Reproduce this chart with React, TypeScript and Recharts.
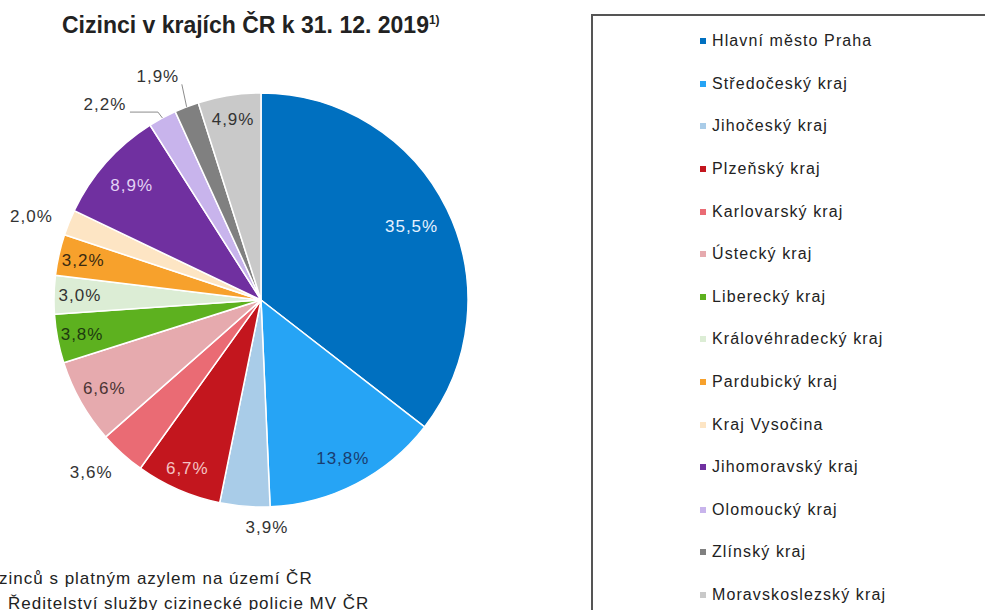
import { Cell, Legend, Pie, PieChart } from "recharts";

const regions = [
  "Hlavní město Praha",
  "Středočeský kraj",
  "Jihočeský kraj",
  "Plzeňský kraj",
  "Karlovarský kraj",
  "Ústecký kraj",
  "Liberecký kraj",
  "Královéhradecký kraj",
  "Pardubický kraj",
  "Kraj Vysočina",
  "Jihomoravský kraj",
  "Olomoucký kraj",
  "Zlínský kraj",
  "Moravskoslezský kraj",
];

const shares = [35.5, 13.8, 3.9, 6.7, 3.6, 6.6, 3.8, 3.0, 3.2, 2.0, 8.9, 2.2, 1.9, 4.9];

const COLORS = [
  "#0070c0",
  "#26a4f5",
  "#a9cce8",
  "#c3161e",
  "#ea6b74",
  "#e6aaae",
  "#5db11f",
  "#dcedd5",
  "#f7a12c",
  "#fde5c4",
  "#7030a0",
  "#c8b4ec",
  "#808080",
  "#c9c9c9",
];

// label styling per slice
const LABEL_COLORS = [
  "#e6f2ff", "#1a3d70", "#333", "#f4c3c3", "#333", "#4a3434", "#1e3a10",
  "#333", "#3a2a10", "#333", "#e3d3f5", "#333", "#333", "#333",
];
const LABEL_RADIUS = [0.81, 0.86, 1.1, 0.89, 1.17, 0.87, 0.88, 0.875, 0.88, 1.18, 0.835, 1.21, 1.19, 0.88];
const LABEL_SHIFT = [0, 0, 6, 0, -2.4, 0, 0, 0, 0, 2, 0, 10.1, 3.7, 0];
// leader lines: [elbow dx, end dx] from label centre
const LEADERS: Record<number, [number, number]> = { 11: [53, 25], 12: [24, 24] };

const RADIAN = Math.PI / 180;
const FONT = '"Liberation Sans", Arial, sans-serif';

const chartData = regions.map((name, i) => ({ name, value: shares[i], fill: COLORS[i] }));

const fmt = (v: number) => `${v.toFixed(1).replace(".", ",")}%`;

function renderLabel(props: any) {
  const { cx, cy, midAngle, outerRadius, index, value } = props;
  const a = (midAngle + LABEL_SHIFT[index]) * RADIAN;
  const r = outerRadius * LABEL_RADIUS[index];
  const x = cx + r * Math.cos(a);
  const y = cy - r * Math.sin(a);
  const leader = LEADERS[index];
  let line = null;
  if (leader) {
    const ex = cx + outerRadius * Math.cos(midAngle * RADIAN);
    const ey = cy - outerRadius * Math.sin(midAngle * RADIAN);
    line = (
      <path
        d={`M${ex},${ey} L${x + leader[0]},${y + 8} L${x + leader[1]},${y + 8}`}
        stroke="#8c8c8c"
        strokeWidth={1}
        fill="none"
      />
    );
  }
  return (
    <g key={`lbl-${index}`}>
      {line}
      <text
        x={x}
        y={y}
        textAnchor="middle"
        dominantBaseline="central"
        fill={LABEL_COLORS[index]}
        fontSize={17}
        letterSpacing={1}
        fontFamily={FONT}
      >
        {fmt(value)}
      </text>
    </g>
  );
}

function LegendBox({ payload }: any) {
  const items = [...(payload || [])].sort(
    (a: any, b: any) => regions.indexOf(a.value) - regions.indexOf(b.value)
  );
  return (
    <div style={{ paddingTop: 4 }}>
      {items.map((p: any) => (
        <div
          key={p.value}
          style={{ display: "flex", alignItems: "center", height: 42.6, paddingLeft: 107 }}
        >
          <span style={{ width: 6, height: 6, background: p.color, marginRight: 6, flexShrink: 0 }} />
          <span style={{ fontSize: 16, fontFamily: FONT, color: "#222", letterSpacing: 1.1 }}>{p.value}</span>
        </div>
      ))}
    </div>
  );
}

export default function App() {
  return (
    <div
      style={{
        position: "absolute",
        left: 0,
        top: 0,
        width: 985,
        height: 610,
        overflow: "hidden",
        background: "#fff",
        fontFamily: FONT,
      }}
    >
      <PieChart
        width={985}
        height={610}
        margin={{ top: 0, right: 0, bottom: 0, left: 0 }}
        style={{ position: "absolute", left: 0, top: 0 }}
      >
        <Pie
          data={chartData}
          dataKey="value"
          nameKey="name"
          cx={261}
          cy={300}
          outerRadius={207}
          startAngle={90}
          endAngle={-270}
          stroke="#fff"
          strokeWidth={1.5}
          label={renderLabel}
          labelLine={false}
          isAnimationActive={false}
        >
          {chartData.map((d, i) => (
            <Cell key={d.name} fill={COLORS[i]} />
          ))}
        </Pie>
        <Legend
          layout="vertical"
          content={<LegendBox />}
          wrapperStyle={{
            position: "absolute",
            left: 591,
            top: 14,
            width: 420,
            height: 620,
            border: "2px solid #555",
            boxSizing: "border-box",
          }}
        />
      </PieChart>

      <div
        style={{
          position: "absolute",
          left: 62,
          top: 12,
          fontSize: 23,
          fontWeight: "bold",
          color: "#222",
          whiteSpace: "nowrap",
        }}
      >
        Cizinci v krajích ČR k 31. 12. 2019
        <sup style={{ fontSize: 12 }}>1)</sup>
      </div>

      <div
        style={{
          position: "absolute",
          left: -1,
          top: 566,
          fontSize: 17,
          letterSpacing: 1,
          color: "#222",
          whiteSpace: "nowrap",
          lineHeight: "25px",
        }}
      >
        <div>zinců s platným azylem na území ČR</div>
        <div style={{ paddingLeft: 9 }}>Ředitelství služby cizinecké policie MV ČR</div>
      </div>
    </div>
  );
}
